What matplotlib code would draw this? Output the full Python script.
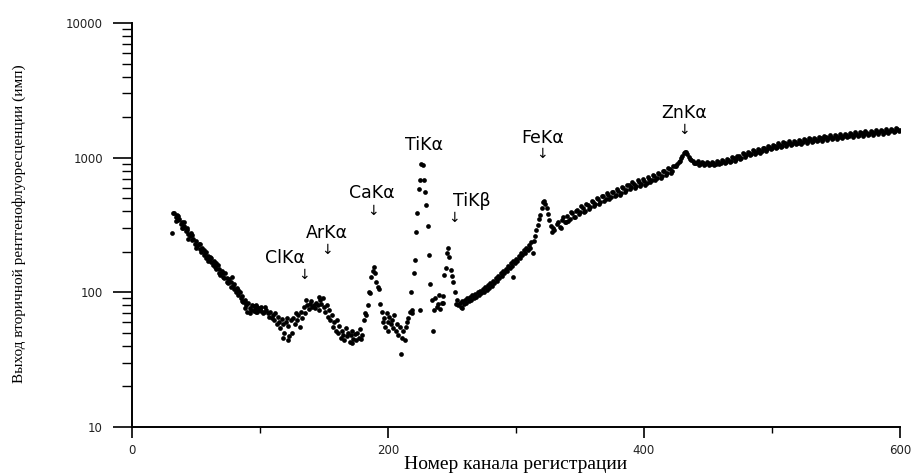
import numpy as np
import matplotlib
matplotlib.use("Agg")
import matplotlib.pyplot as plt
from matplotlib.ticker import LogLocator, FixedLocator, NullFormatter, FuncFormatter

# counts for channels 31..330 (one point per channel)
low_start = 31
low_counts = [
    275, 385, 390, 360, 375, 345, 350, 320, 330, 300,
    310, 285, 290, 270, 260, 275, 245, 250, 230, 240,
    220, 228, 210, 200, 215, 190, 195, 180, 185, 175,
    182, 168, 160, 172, 155, 150, 160, 140, 135, 145,
    130, 128, 138, 120, 117, 125, 110, 130, 112, 105,
    100, 108, 96, 100, 91, 94, 85, 88, 80, 72,
    83, 77, 74, 80, 73, 75, 72, 78, 74, 76,
    73, 70, 72, 78, 74, 70, 66, 72, 64, 68,
    62, 70, 58, 66, 60, 54, 63, 58, 50, 60,
    65, 56, 47, 62, 50, 65, 58, 70, 62, 68,
    55, 72, 65, 78, 70, 88, 80, 75, 82, 86,
    78, 80, 76, 84, 80, 74, 88, 82, 90, 78,
    72, 80, 66, 74, 62, 68, 55, 60, 52, 62,
    50, 56, 46, 52, 48, 44, 54, 47, 50, 43,
    48, 52, 45, 49, 44, 50, 46, 53, 45, 48,
    62, 70, 68, 80, 100, 98, 130, 145, 155, 140,
    120, 110, 105, 82, 72, 60, 65, 55, 70, 60,
    66, 58, 62, 54, 68, 52, 58, 48, 55, 35,
    46, 52, 44, 55, 60, 64, 72, 100, 70, 139,
    174, 281, 388, 586, 683, 900, 880, 683, 555, 446,
    311, 190, 115, 88, 52, 74, 91, 78, 82, 96,
    75, 84, 94, 134, 152, 196, 214, 182, 146, 132,
    119, 100, 82, 88, 80, 84, 78, 86, 82, 88,
    84, 90, 86, 92, 88, 95, 90, 97, 93, 100,
    95, 103, 98, 106, 101, 110, 104, 114, 108, 118,
    112, 122, 117, 127, 122, 132, 128, 138, 133, 144,
    139, 150, 145, 157, 151, 164, 158, 172, 165, 178,
    172, 186, 180, 195, 188, 205, 196, 215, 206, 225,
    215, 235, 196, 240, 260, 290, 317, 350, 375, 420,
    470, 480, 455, 420, 380, 345, 310, 280, 300, 290,
]

# counts for even channels 332..600
even_start = 332
even_counts = [
    320, 305, 345, 330, 370, 350, 385, 365, 410, 395,
    425, 405, 445, 430, 470, 450, 490, 470, 515, 495,
    530, 510, 555, 530, 570, 545, 600, 575, 625, 610,
    640, 620, 665, 640, 675, 650, 700, 680, 725, 705,
    750, 730, 790, 765, 820, 800, 860, 890, 950, 1020,
    1100, 1060, 980, 950, 920, 940, 900, 915, 890, 910,
    895, 920, 900, 935, 915, 945, 930, 965, 950, 995,
    975, 1020, 1000, 1060, 1040, 1090, 1070, 1120, 1100, 1140,
    1120, 1170, 1150, 1200, 1180, 1230, 1210, 1250, 1230, 1280,
    1255, 1295, 1270, 1310, 1290, 1330, 1305, 1350, 1325, 1365,
    1340, 1380, 1360, 1400, 1375, 1420, 1395, 1435, 1410, 1445,
    1425, 1460, 1440, 1475, 1455, 1490, 1470, 1500, 1480, 1515,
    1495, 1530, 1510, 1545, 1525, 1560, 1540, 1575, 1555, 1590,
    1570, 1610, 1590, 1630, 1610,
]

# counts for odd channels 333..599
odd_start = 333
odd_counts = [
    335, 300, 360, 335, 340, 395, 360, 405, 380, 440,
    395, 455, 415, 480, 440, 500, 455, 520, 480, 545,
    495, 560, 515, 585, 530, 610, 560, 630, 590, 660,
    600, 680, 620, 695, 630, 715, 655, 740, 680, 770,
    705, 800, 740, 835, 775, 870, 860, 930, 1000, 1080,
    1110, 1010, 960, 910, 905, 880, 930, 875, 925, 875,
    935, 885, 950, 895, 965, 905, 985, 925, 1010, 950,
    1035, 975, 1075, 1010, 1100, 1040, 1135, 1070, 1160, 1090,
    1185, 1120, 1215, 1150, 1245, 1175, 1275, 1195, 1300, 1225,
    1320, 1240, 1335, 1255, 1355, 1270, 1375, 1290, 1395, 1305,
    1410, 1320, 1430, 1340, 1450, 1360, 1465, 1375, 1480, 1385,
    1495, 1400, 1510, 1415, 1525, 1430, 1540, 1445, 1550, 1455,
    1565, 1470, 1580, 1485, 1595, 1500, 1610, 1510, 1625, 1525,
    1645, 1545, 1660, 1570,
]

# scattered extra points
extra_ch = [34, 36, 39, 41, 43, 44, 47, 50, 53, 56, 58, 59, 62, 65, 66, 68,
            71, 74, 77, 80, 83, 86, 88, 89, 92, 95, 97, 98, 101, 118, 122,
            146, 172, 200, 219, 225, 243, 258, 298]
extra_counts = [340, 370, 300, 330, 300, 250, 265, 215, 230, 205, 200, 170,
                180, 165, 165, 150, 140, 128, 120, 115, 104, 86, 77, 84, 70,
                79, 80, 71, 78, 46, 44, 92, 42, 52, 74, 74, 84, 76, 130]

# peak labels
line_names = ["ClK\u03b1", "ArK\u03b1", "CaK\u03b1", "TiK\u03b1", "TiK\u03b2",
              "FeK\u03b1", "ZnK\u03b1"]
label_ch = [119.5, 152, 187.5, 228, 265.6, 321, 431]
label_y = [180, 276, 547, 1242, 478, 1399, 2148]
arrow_ch = [134, 152.3, 188.3, None, 251.6, 320.3, 431]
arrow_y = [135, 206, 402, None, 357, 1064, 1607]

ch_low = np.arange(low_start, low_start + len(low_counts))
ch_even = np.arange(even_start, even_start + 2 * len(even_counts), 2)
ch_odd = np.arange(odd_start, odd_start + 2 * len(odd_counts), 2)

fig = plt.figure(figsize=(9.16, 4.75), dpi=100)
ax = fig.add_axes([0.1441, 0.1011, 0.9825 - 0.1441, 0.9516 - 0.1011])

for xs, ys in [(ch_low, low_counts), (ch_even, even_counts),
               (ch_odd, odd_counts), (extra_ch, extra_counts)]:
    ax.plot(xs, ys, 'o', color='black', markersize=3.4, markeredgewidth=0)

ax.set_yscale('log')
ax.set_xlim(0, 600)
ax.set_ylim(10, 10000)

for s in ['top', 'right']:
    ax.spines[s].set_visible(False)
ax.spines['left'].set_linewidth(1.4)
ax.spines['bottom'].set_linewidth(1.4)

ax.set_xticks([0, 200, 400, 600])
ax.xaxis.set_minor_locator(FixedLocator([100, 300, 500]))
ax.yaxis.set_major_locator(LogLocator(base=10, numticks=10))
ax.yaxis.set_minor_locator(LogLocator(base=10, subs=np.arange(2, 10), numticks=20))
ax.yaxis.set_minor_formatter(NullFormatter())
ax.yaxis.set_major_formatter(FuncFormatter(lambda v, p: '%d' % round(v)))

ax.tick_params(axis='y', which='major', length=14, width=1.2, labelsize=8.5, pad=7,
               labelcolor='#222222')
ax.tick_params(axis='y', which='minor', length=7, width=1.0)
ax.tick_params(axis='x', which='major', length=8, width=1.2, labelsize=8.5, pad=4,
               labelcolor='#222222')
ax.tick_params(axis='x', which='minor', length=4.5, width=1.0)

for name, tx, ty, axx, ayy in zip(line_names, label_ch, label_y, arrow_ch, arrow_y):
    ax.text(tx, ty, name, ha='center', va='center', fontsize=12.5, family='DejaVu Sans')
    if axx is not None:
        ax.text(axx, ayy, '\u2193', ha='center', va='center', fontsize=10, family='DejaVu Sans')

fig.text(516 / 916, 2 / 475, 'Номер канала регистрации', ha='center', va='bottom',
         fontsize=14, family='Liberation Serif')
fig.text(19 / 916, 1 - 224 / 475, 'Выход вторичной рентгенофлуоресценции (имп)',
         rotation=90, ha='center', va='center', fontsize=11, family='Liberation Serif')

fig.savefig('out.png', dpi=100)
